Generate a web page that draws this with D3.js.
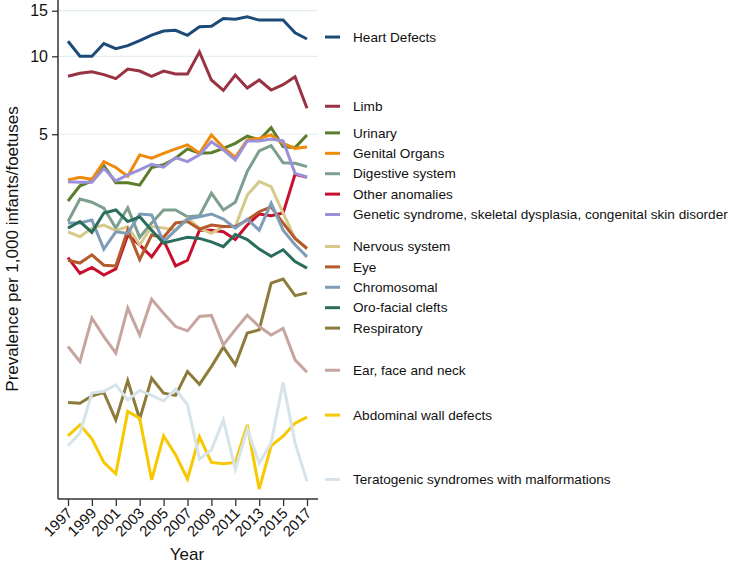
<!DOCTYPE html>
<html>
<head>
<meta charset="utf-8">
<script src="https://cdn.jsdelivr.net/npm/d3@7"></script>
<style>
  body { margin: 0; background: #fff; }
  text { font-family: "Liberation Sans", Arial, sans-serif; fill: #111; }
</style>
</head>
<body>
<svg id="chart" width="735" height="563"></svg>
<script>
// years on the x axis
var years = d3.range(1997, 2018);
var yearTicks = d3.range(1997, 2018, 2);
var valueTicks = [5, 10, 15];

// prevalence per 1,000
var heartDefects = [11.43,10.0,10.0,11.2,10.7,10.99,11.49,12.08,12.52,12.6,12.05,13.0,13.05,14.0,13.9,14.2,13.8,13.8,13.8,12.33,11.66];
var limb = [8.37,8.6,8.72,8.5,8.2,8.93,8.77,8.37,8.77,8.55,8.55,10.4,8.1,7.39,8.47,7.54,8.1,7.41,7.77,8.34,6.3];
var urinary = [2.76,3.16,3.30,3.78,3.25,3.25,3.18,3.72,3.81,4.04,4.39,4.22,4.24,4.41,4.61,4.92,4.75,5.30,4.48,4.44,4.97];
var genitalOrgans = [3.33,3.41,3.35,3.92,3.72,3.44,4.16,4.04,4.22,4.39,4.55,4.22,4.97,4.44,4.07,4.75,4.82,4.97,4.61,4.41,4.46];
var digestive = [2.30,2.81,2.73,2.59,2.17,2.60,2.00,2.27,2.55,2.55,2.40,2.42,2.96,2.55,2.73,3.59,4.31,4.52,3.88,3.86,3.75];
var otherAnomalies = [1.67,1.45,1.53,1.43,1.51,2.04,1.87,1.68,1.95,1.55,1.63,2.13,2.13,2.10,1.96,2.23,2.46,2.42,2.48,3.50,3.41];
var geneticSyndrome = [3.28,3.26,3.26,3.69,3.30,3.48,3.64,3.83,3.73,4.06,3.92,4.16,4.68,4.35,3.98,4.71,4.71,4.79,4.71,3.53,3.41];
var nervous = [2.10,2.01,2.17,2.23,2.12,2.20,1.87,2.20,2.17,2.13,2.37,2.17,2.07,2.20,2.20,2.91,3.28,3.14,2.48,1.98,1.81];
var eye = [1.63,1.59,1.71,1.56,1.55,2.13,1.64,2.04,2.00,2.27,2.30,2.15,2.23,2.20,2.20,2.33,2.51,2.62,2.27,1.98,1.81];
var chromosomal = [2.27,2.27,2.33,1.80,2.10,2.07,2.46,2.44,1.92,2.13,2.35,2.40,2.46,2.35,2.17,2.35,2.13,2.71,2.13,1.87,1.68];
var oroFacial = [2.17,2.30,2.09,2.48,2.55,2.30,2.40,2.13,1.90,1.95,2.00,1.98,1.92,1.84,2.05,1.96,1.80,1.69,1.79,1.61,1.52];
var respiratory = [0.46,0.457,0.488,0.503,0.394,0.559,0.397,0.571,0.50,0.49,0.606,0.541,0.633,0.753,0.643,0.853,0.878,1.33,1.38,1.19,1.22];
var earFaceNeck = [0.757,0.662,0.974,0.827,0.714,1.065,0.838,1.153,1.018,0.904,0.870,0.988,0.998,0.768,0.88,1.0,0.904,0.838,0.89,0.672,0.602];
var abdominalWall = [0.342,0.377,0.333,0.270,0.244,0.425,0.40,0.231,0.342,0.289,0.233,0.339,0.270,0.267,0.270,0.377,0.213,0.313,0.341,0.383,0.404];
var teratogenic = [0.313,0.350,0.50,0.508,0.538,0.471,0.512,0.49,0.466,0.518,0.451,0.278,0.302,0.394,0.254,0.363,0.268,0.321,0.55,0.321,0.228];

// legend names, same order as the legend
var labels = ["Heart Defects","Limb","Urinary","Genital Organs","Digestive system","Other anomalies",
  "Genetic syndrome, skeletal dysplasia, congenital skin disorder","Nervous system","Eye","Chromosomal",
  "Oro-facial clefts","Respiratory","Ear, face and neck","Abdominal wall defects","Teratogenic syndromes with malformations"];
var values = [heartDefects, limb, urinary, genitalOrgans, digestive, otherAnomalies, geneticSyndrome,
  nervous, eye, chromosomal, oroFacial, respiratory, earFaceNeck, abdominalWall, teratogenic];

// line colours
var colours = ["#1c4b78","#993344","#5a7d2a","#ef8a0c","#7c9f8e","#c8102e","#9b90d9",
  "#d5ca89","#b45a2b","#7f9cb9","#2a6d5c","#8d7b3c","#c6a59e","#f8c800","#d6e4ea"];

var svg = d3.select("#chart");

// scales
var x = d3.scaleLinear().domain([1997, 2017]).range([68, 307]);
var y = d3.scaleLog().domain([0.195, 16.5]).range([499, 0]);

// grid lines
svg.append("g").selectAll("line")
  .data(valueTicks).enter().append("line")
  .attr("x1", 58).attr("x2", 318)
  .attr("y1", function(d){ return y(d); })
  .attr("y2", function(d){ return y(d); })
  .attr("stroke", "#e4eef1").attr("stroke-width", 1.2);

// y axis
var yAxis = svg.append("g")
  .attr("transform", "translate(58,0)")
  .call(d3.axisLeft(y).tickValues(valueTicks).tickFormat(d3.format("d")).tickSize(6).tickPadding(4));
yAxis.select(".domain").attr("d", "M0,0V499").attr("stroke", "#333").attr("stroke-width", 1.5);
yAxis.selectAll(".tick line").attr("stroke", "#333").attr("stroke-width", 1.3);
yAxis.selectAll(".tick text").style("font-size", "16px").style("font-family", "Liberation Sans, Arial, sans-serif").attr("fill", "#111");

// x axis
var xAxis = svg.append("g")
  .attr("transform", "translate(0,499)")
  .call(d3.axisBottom(x).tickValues(yearTicks).tickFormat(d3.format("d")).tickSize(7));
xAxis.select(".domain").attr("d", "M58,0H318").attr("stroke", "#333").attr("stroke-width", 1.5);
xAxis.selectAll(".tick line").attr("stroke", "#333").attr("stroke-width", 1.3);
xAxis.selectAll(".tick text")
  .style("font-size", "15px").style("font-family", "Liberation Sans, Arial, sans-serif").attr("fill", "#111")
  .style("text-anchor", "end")
  .attr("y", 0).attr("dy", 0)
  .attr("transform", "translate(5,15) rotate(-45)");

// axis titles
svg.append("text")
  .attr("x", 187).attr("y", 560)
  .attr("text-anchor", "middle")
  .style("font-size", "17px")
  .text("Year");

svg.append("text")
  .attr("transform", "translate(18,249) rotate(-90)")
  .attr("text-anchor", "middle")
  .style("font-size", "17px")
  .text("Prevalence per 1,000 infants/foetuses");

// lines
var line = d3.line()
  .x(function(d, i){ return x(years[i]); })
  .y(function(d){ return y(d); });

svg.append("g").selectAll("path")
  .data(values).enter().append("path")
  .attr("d", line)
  .attr("fill", "none")
  .attr("stroke", function(d, i){ return colours[i]; })
  .attr("stroke-width", 3);

// legend at the end of each line, pushed apart so labels don't overlap
var legendY = [];
values.forEach(function(v, i){
  var pos = y(v[v.length - 1]) - 2;
  if (i > 0 && legendY[i-1] + 20.4 > pos) pos = legendY[i-1] + 20.4;
  legendY.push(pos);
});

var legend = svg.append("g").selectAll("g")
  .data(labels).enter().append("g")
  .attr("transform", function(d, i){ return "translate(0," + legendY[i] + ")"; });

legend.append("line")
  .attr("x1", 325).attr("x2", 340)
  .attr("stroke", function(d, i){ return colours[i]; })
  .attr("stroke-width", 3);

legend.append("text")
  .attr("x", 353).attr("dy", "0.35em")
  .style("font-size", "13.6px")
  .text(function(d){ return d; });
</script>
</body>
</html>
